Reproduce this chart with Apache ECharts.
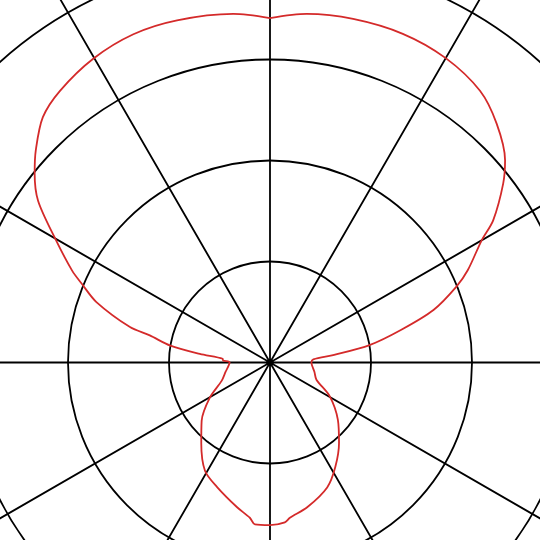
<!DOCTYPE html>
<html lang="en">
<head>
  <meta charset="UTF-8">
  <title>Polar pattern</title>
  <script src="https://cdn.jsdelivr.net/npm/echarts@6/dist/echarts.min.js"></script>
</head>
<body style="margin:0;background:#fff">
  <div id="main" style="width:540px;height:540px;"></div>
  <script type="text/javascript">
    // angle in degrees, clockwise from the top
    const angles = [
      0, 6, 13.6, 22, 30, 37.7, 43.5, 49.3, 52.5, 57.5, 60, 65, 67.9, 72.2, 76, 80.1, 83.2, 85.8, 90,
      102, 110.3, 119.5, 130.2, 139.4, 148, 155.4, 165.6, 172.7, 174.7, 180,
      185.3, 187.4, 192.8, 203, 211, 220.4, 229.5, 239.7, 249.4, 258, 270,
      272.4, 274.5, 277, 279.6, 282.7, 284.2, 289.2, 292.7, 294.9, 299.9, 304.9, 308.8,
      312.2, 317.2, 322.3, 329.8, 337.4, 344.8, 354, 360
    ]
    // radius, one unit per ring
    const radii = [
      3.41, 3.47, 3.50, 3.51, 3.48, 3.40, 3.26, 3.07, 2.91, 2.62, 2.42, 2.16, 1.99, 1.70, 1.34, 1.00, 0.64, 0.43, 0.41,
      0.45, 0.49, 0.68, 0.88, 1.05, 1.22, 1.36, 1.48, 1.55, 1.59, 1.61,
      1.61, 1.55, 1.47, 1.34, 1.25, 1.05, 0.89, 0.69, 0.51, 0.45, 0.40,
      0.465, 0.47, 0.70, 1.00, 1.22, 1.43, 1.82, 2.02, 2.16, 2.45, 2.80, 2.99,
      3.13, 3.31, 3.40, 3.48, 3.52, 3.51, 3.47, 3.41
    ]

    const pattern = angles.map((a, i) => [radii[i], a])

    var myChart = echarts.init(document.getElementById('main'))
    myChart.setOption({
      animation: false,
      polar: {
        center: [270, 362.5],
        radius: 505
      },
      angleAxis: {
        type: 'value',
        min: 0,
        max: 360,
        interval: 30,
        startAngle: 90,
        clockwise: true,
        axisLine: { show: false },
        axisTick: { show: false },
        axisLabel: { show: false },
        splitLine: { lineStyle: { color: '#000', width: 1.8 } }
      },
      radiusAxis: {
        min: 0,
        max: 5,
        interval: 1,
        axisLine: { show: false },
        axisTick: { show: false },
        axisLabel: { show: false },
        splitLine: { lineStyle: { color: '#000', width: 1.8 } }
      },
      series: [{
        type: 'line',
        coordinateSystem: 'polar',
        data: pattern,
        showSymbol: false,
        smooth: 0.3,
        lineStyle: { color: '#d42a2a', width: 1.8 }
      }]
    })
  </script>
</body>
</html>
